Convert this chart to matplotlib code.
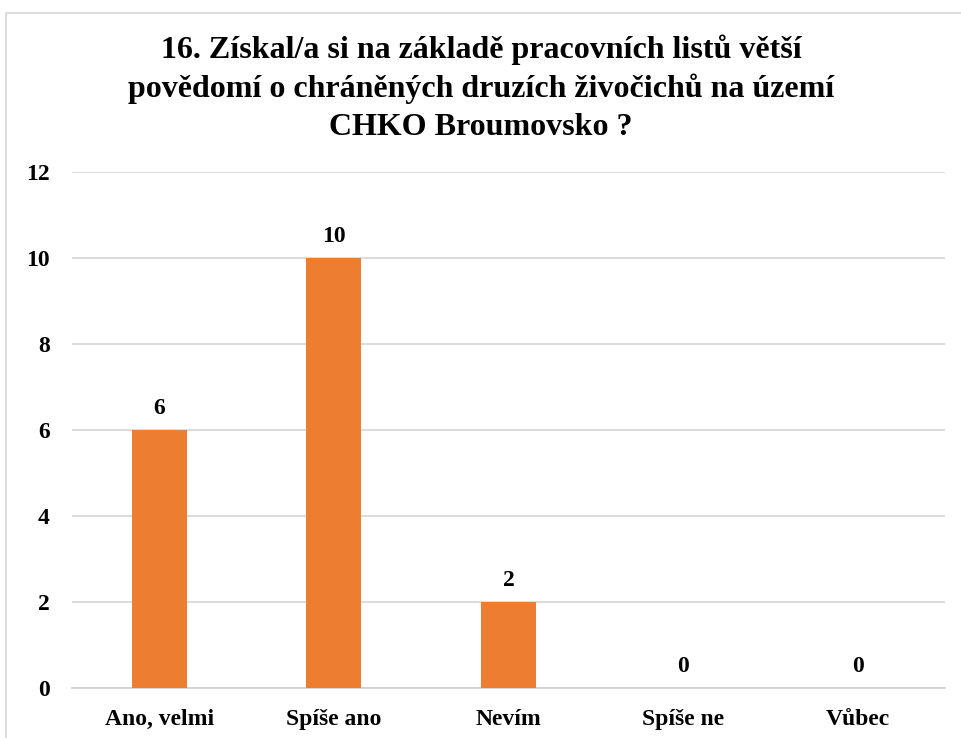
import matplotlib
matplotlib.use("Agg")
import matplotlib.pyplot as plt
from matplotlib.patches import Rectangle

categories = ["Ano, velmi", "Spíše ano", "Nevím", "Spíše ne", "Vůbec"]
values = [6, 10, 2, 0, 0]
title = "16. Získal/a si na základě pracovních listů větší\npovědomí o chráněných druzích živočichů na území\nCHKO Broumovsko ?"
yticks = [0, 2, 4, 6, 8, 10, 12]

plt.rcParams['font.family'] = ['Liberation Serif', 'DejaVu Serif']
plt.rcParams['font.weight'] = 'bold'

W, H = 962, 738
fig = plt.figure(figsize=(W/100, H/100), dpi=100)
fig.patch.set_facecolor('white')

# outer chart border (cropped at right/bottom)
fig.add_artist(Rectangle((5.5/W, -0.05), 1.2, 1 - 12.5/H + 0.05, transform=fig.transFigure,
                         fill=False, edgecolor='#d9d9d9', linewidth=1.3))

ax = fig.add_axes([72/W, 1 - 688/H, (945-72)/W, (688-172)/H])
x = list(range(len(categories)))
bars = ax.bar(x, values, width=0.315, color='#ED7D31', zorder=3)
ax.set_xlim(-0.5, len(categories) - 0.5)
ax.set_ylim(0, 12)
ax.set_yticks(yticks)
ax.set_yticklabels([str(t) for t in yticks], fontsize=17, fontweight='bold')
ax.set_xticks(x)
ax.set_xticklabels(categories, fontsize=17, fontweight='bold')
ax.tick_params(axis='both', length=0)
ax.tick_params(axis='y', pad=16)
ax.tick_params(axis='x', pad=15)
ax.grid(axis='y', color='#d9d9d9', linewidth=1.3, zorder=0)
for s in ['top', 'right', 'left']:
    ax.spines[s].set_visible(False)
ax.spines['bottom'].set_color('#d0d0d0')
ax.spines['bottom'].set_linewidth(1.3)

for xi, v in zip(x, values):
    ax.annotate(str(v), (xi, v), xytext=(0, 8), textcoords='offset points',
                ha='center', va='bottom', fontsize=17, fontweight='bold')

fig.text(0.5, 1 - 88/H, title, ha='center', va='center', fontsize=23,
         fontweight='bold', linespacing=1.38)

fig.savefig('out.png', dpi=100)
